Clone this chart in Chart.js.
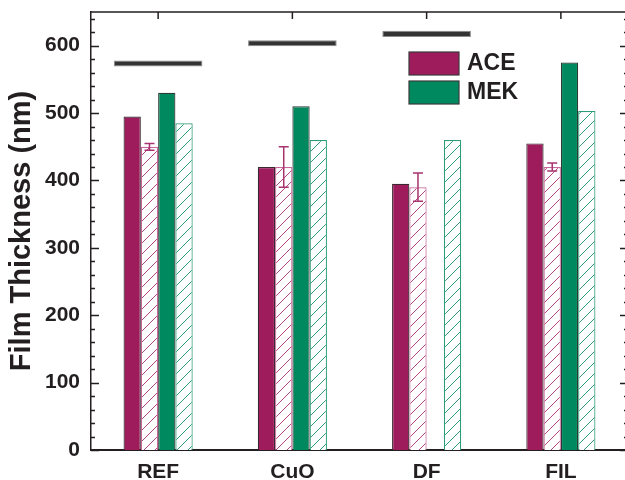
<!DOCTYPE html>
<html>
<head>
<meta charset="utf-8">
<script src="https://cdn.jsdelivr.net/npm/chart.js@4.4.1/dist/chart.umd.min.js"></script>
<style>
  html, body { margin: 0; padding: 0; background: #fff; overflow: hidden; }
  #wrap { width: 628px; height: 480px; }
</style>
</head>
<body>
<div id="wrap"><canvas id="chart" width="628" height="480"></canvas></div>
<script>
// Werte
const categories = ['REF', 'CuO', 'DF', 'FIL'];
const aceSolid = [495, 420, 395, 455];
const aceHatched = [450, 420, 390, 420];
const aceHatchedErr = [5, 30, 21, 6];
const mekSolid = [530, 510, null, 575];
const mekHatched = [485, 460, 460, 503];
const refLow = [569, 599, 613, null];
const refHigh = [578, 608, 622, null];
const yTicks = [0, 100, 200, 300, 400, 500, 600];

const ink = '#231f20';
const aceColor = '#9e1b5c';
const mekColor = '#00895e';
const font = 'Liberation Sans, Arial, sans-serif';

// Schraffur als Muster
function hatch(color) {
    const c = document.createElement('canvas');
    c.width = 11; c.height = 11;
    const g = c.getContext('2d');
    g.fillStyle = '#fff';
    g.fillRect(0, 0, 11, 11);
    g.strokeStyle = color;
    g.lineWidth = 1;
    g.beginPath();
    g.moveTo(0, 11); g.lineTo(11, 0);
    g.moveTo(-1, 1); g.lineTo(1, -1);
    g.moveTo(10, 12); g.lineTo(12, 10);
    g.stroke();
    return document.createElement('canvas').getContext('2d').createPattern(c, 'repeat');
}

// Fehlerbalken fuer ACE schraffiert
const errorBars = {
    id: 'errorBars',
    afterDatasetsDraw(chart) {
        const ctx = chart.ctx;
        const y = chart.scales.y;
        const meta = chart.getDatasetMeta(1);
        ctx.save();
        ctx.strokeStyle = '#a8336f';
        ctx.lineWidth = 1.5;
        meta.data.forEach((bar, i) => {
            const v = aceHatched[i], e = aceHatchedErr[i];
            if (v == null) return;
            const top = y.getPixelForValue(v + e);
            const bot = y.getPixelForValue(v - e);
            ctx.beginPath();
            ctx.moveTo(bar.x, top); ctx.lineTo(bar.x, bot);
            ctx.moveTo(bar.x - 5, top); ctx.lineTo(bar.x + 5, top);
            ctx.moveTo(bar.x - 5, bot); ctx.lineTo(bar.x + 5, bot);
            ctx.stroke();
        });
        ctx.restore();
    }
};

// Rahmen, Innen-Ticks und Legende
const frame = {
    id: 'frame',
    afterDraw(chart) {
        const ctx = chart.ctx;
        const a = chart.chartArea;
        const y = chart.scales.y;
        const x = chart.scales.x;
        ctx.save();
        ctx.strokeStyle = ink;
        ctx.lineWidth = 1.5;
        ctx.beginPath();
        ctx.moveTo(a.left, a.top); ctx.lineTo(a.right, a.top);
        ctx.moveTo(a.right, a.top); ctx.lineTo(a.right, a.bottom);
        for (let v = 0; v <= 640; v += 20) {
            const p = Math.round(y.getPixelForValue(v)) + 0.5;
            const len = v % 100 === 0 ? 8 : 4;
            ctx.moveTo(a.left, p); ctx.lineTo(a.left + len, p);
            ctx.moveTo(a.right, p); ctx.lineTo(a.right - len, p);
        }
        categories.forEach((c, i) => {
            const p = x.getPixelForValue(i);
            ctx.moveTo(p, a.top); ctx.lineTo(p, a.top + 7);
        });
        ctx.stroke();

        // Legende
        const items = [chart.data.datasets[0], chart.data.datasets[2]];
        items.forEach((ds, i) => {
            const bx = 409, by = 52 + i * 29;
            ctx.fillStyle = ds.backgroundColor;
            ctx.fillRect(bx, by, 50, 23);
            ctx.strokeStyle = '#3a3a3a';
            ctx.lineWidth = 1.2;
            ctx.strokeRect(bx, by, 50, 23);
            ctx.fillStyle = ink;
            ctx.font = 'bold 23px ' + font;
            ctx.textBaseline = 'middle';
            ctx.fillText(ds.label, bx + 58, by + 12);
        });
        ctx.restore();
    }
};

new Chart(document.getElementById('chart'), {
    type: 'bar',
    data: {
        labels: categories,
        datasets: [
            {
                label: 'ACE',
                data: aceSolid,
                backgroundColor: aceColor,
                borderColor: '#3a2a30',
                borderWidth: 1.2
            },
            {
                label: 'ACE hatched',
                data: aceHatched,
                backgroundColor: hatch('#b2447f'),
                borderColor: '#c7679a',
                borderWidth: 1.2
            },
            {
                label: 'MEK',
                data: mekSolid,
                backgroundColor: mekColor,
                borderColor: '#2d3a34',
                borderWidth: 1.2
            },
            {
                label: 'MEK hatched',
                data: mekHatched,
                backgroundColor: hatch('#2e9d75'),
                borderColor: '#2e9d75',
                borderWidth: 1.2
            },
            {
                label: 'ref',
                data: refLow.map((v, i) => v == null ? null : [v, refHigh[i]]),
                grouped: false,
                categoryPercentage: 0.66,
                barPercentage: 1,
                backgroundColor: '#333333',
                borderColor: '#8c8c8c',
                borderWidth: 1,
                borderSkipped: false
            }
        ]
    },
    options: {
        responsive: false,
        animation: false,
        categoryPercentage: 0.515,
        barPercentage: 1,
        layout: { padding: { top: 12, left: 0, right: 0, bottom: 0 } },
        plugins: {
            legend: { display: false },
            tooltip: { enabled: false }
        },
        scales: {
            x: {
                grid: { display: false, drawTicks: false },
                border: { display: true, color: ink, width: 2 },
                ticks: {
                    color: ink,
                    padding: 10,
                    font: { family: font, size: 21, weight: 'bold' }
                },
                afterFit: s => { s.height = 30; s.paddingLeft = 0; s.paddingRight = 0; }
            },
            y: {
                min: 0,
                max: 650,
                grid: { display: false, drawTicks: false },
                border: { display: true, color: ink, width: 1.5 },
                afterBuildTicks: s => { s.ticks = yTicks.map(v => ({ value: v })); },
                ticks: {
                    color: ink,
                    padding: 11,
                    font: { family: font, size: 21, weight: 'bold' }
                },
                title: {
                    display: true,
                    text: 'Film Thickness (nm)',
                    color: ink,
                    padding: { top: 5, bottom: 0 },
                    font: { family: font, size: 29, weight: 'bold' }
                },
                afterFit: s => { s.width = 91; s.paddingTop = 0; s.paddingBottom = 0; }
            }
        }
    },
    plugins: [errorBars, frame]
});
</script>
</body>
</html>
